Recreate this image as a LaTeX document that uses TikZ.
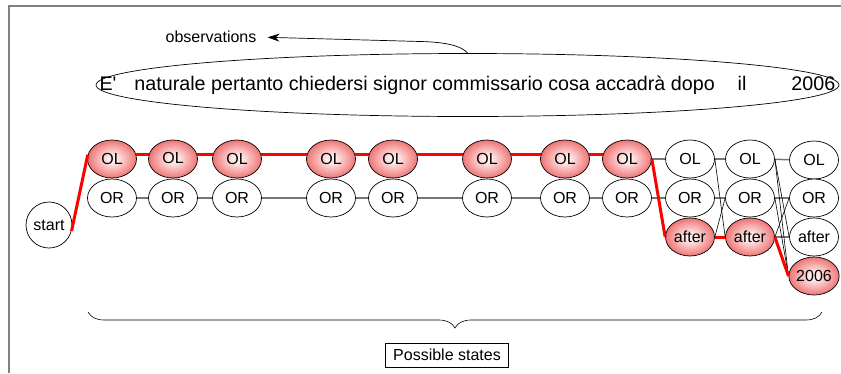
\documentclass[tikz,border=0pt]{standalone}
\usepackage{fontspec}
\setmainfont{Liberation Sans}[Ligatures=TeXOff]
\usetikzlibrary{shapes.geometric,decorations.pathreplacing,arrows.meta}

\definecolor{framegray}{RGB}{128,128,128}
\definecolor{linkgray}{RGB}{118,118,118}
\definecolor{nodeedge}{RGB}{230,52,52}
\definecolor{nodecore}{RGB}{255,234,234}
\pgfdeclareradialshading{redglow}{\pgfpoint{0bp}{0bp}}{%
  color(0bp)=(nodecore); color(5bp)=(nodecore);
  color(36bp)=(nodeedge); color(50bp)=(nodeedge)}

\begin{document}
\begin{tikzpicture}[x=1pt,y=-1pt,
  basestate/.style={ellipse, draw=black, line width=0.7pt,
    minimum width=49pt, minimum height=38pt, inner sep=0pt,
    font=\fontsize{16}{18}\selectfont},
  state/.style={basestate, fill=white},
  hot/.style={basestate, shading=redglow},
  hotlink/.style={red, line width=3pt},
  link/.style={linkgray, line width=1.5pt},
  thin/.style={black, line width=0.6pt},
  label/.style={inner sep=0pt, font=\fontsize{16}{18}\selectfont}]

\useasboundingbox (0,0) rectangle (841,373);

% frame
\draw[framegray, line width=1.5pt] (9,373) -- (9,6) -- (841,6);

% observed sentence
\node[ellipse, draw, line width=0.7pt, minimum width=743pt, minimum height=63pt,
  inner sep=0pt, font=\fontsize{19.7}{22}\selectfont] (sent) at (467.5,85)
  {\makebox[0pt]{E'\hspace{18pt}naturale pertanto chiedersi signor commissario cosa accadrà dopo\hspace{23pt}il\hspace{45pt}2006}};

\node[label] (obs) at (211,37) {observations};
\draw[line width=0.7pt, -{Stealth[length=12pt,width=8pt]}, shorten >=11pt]
  (sent.north) .. controls (462,46) and (446,42) .. (420,41.5) -- (obs.east);

% states
\node[state, circle, minimum size=46pt] (start) at (49,225) {start};
\foreach \i/\x in {1/112,3/237,4/331,5/393,6/487,7/565,8/627}
  \node[hot] (ol\i) at (\x,159) {\raisebox{1pt}{OL}};
\node[hot] (ol2) at (173,159) {\raisebox{3pt}{OL}};
\node[state] (ol9) at (690,159) {OL};
\node[state] (ol10) at (750,159) {\raisebox{1pt}{OL}};
\node[state] (ol11) at (814,160) {\raisebox{-2pt}{OL}};
\foreach \i/\x in {1/112,3/237,4/331,5/393,6/487,7/565,8/627,9/690,10/750,11/814}
  \node[state] (or\i) at (\x,198) {\raisebox{1pt}{OR}};
\node[state] (or2) at (173,198) {\raisebox{-1pt}{OR}};
\node[hot] (af9) at (690,237) {after};
\node[hot] (af10) at (750,237) {after};
\node[state] (af11) at (814,237) {\raisebox{1pt}{after}};
\node[hot] (yr11) at (814,276) {2006};

% transitions
\foreach \a/\b in {1/2,2/3,3/4,4/5,5/6,6/7,7/8,8/9,9/10,10/11}
  \draw[link] (or\a) -- (or\b);
\draw[link] (ol8) -- (ol9);
\draw[link] (ol9) -- (ol10);
\draw[link] (ol10) -- (ol11);
\draw[link] (af10) -- (af11);

\draw[thin] (ol9.east) -- (af10.west);
\draw[thin] (af9.east) -- (or10.west);
\draw[thin] (ol10.east) -- (af11.west);
\draw[thin] (ol10.east) -- (yr11.west);
\draw[thin] (or10.east) -- (yr11.west);
\draw[thin] (af10.east) -- (or11.west);

% best path
\draw[hotlink] (start.-15) -- (ol1.170);
\foreach \a/\b in {1/2,2/3,3/4,4/5,5/6,6/7,7/8}
  \draw[hotlink] (ol\a.10) -- (ol\b.170);
\draw[hotlink] (ol8.east) -- (af9.west);
\draw[hotlink] (af9.east) -- (af10.west);
\draw[hotlink] (af10.east) -- (yr11.west);

% brace and caption
\coordinate (bl) at (88,312);
\coordinate (br) at (822,312);
\draw[line width=0.6pt, decorate, decoration={brace, amplitude=16pt, mirror}] (bl) -- (br);
\node[draw, line width=0.7pt, inner xsep=8pt, inner ysep=0pt, minimum height=24pt,
  font=\fontsize{16}{18}\selectfont] (ps) at (447,355) {Possible states};
\end{tikzpicture}
\end{document}
